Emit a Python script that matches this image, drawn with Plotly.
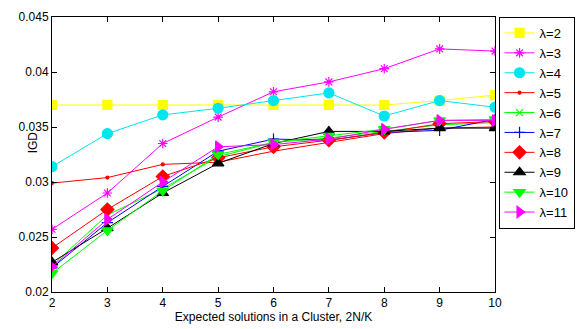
import plotly.graph_objects as go

x_vals = [2, 3, 4, 5, 6, 7, 8, 9, 10]

lam2 = [0.0370, 0.0370, 0.0370, 0.0370, 0.0370, 0.0370, 0.0370, 0.0374, 0.0379]
lam3 = [0.0257, 0.0290, 0.0335, 0.0359, 0.0382, 0.0391, 0.0403, 0.0421, 0.0419]
lam4 = [0.0314, 0.0344, 0.0361, 0.0367, 0.0374, 0.0381, 0.0360, 0.0374, 0.0368]
lam5 = [0.0299, 0.0304, 0.0316, 0.0318, 0.0328, 0.0336, 0.0344, 0.0349, 0.0350]
lam6 = [0.0224, 0.0270, 0.0294, 0.0323, 0.0336, 0.0340, 0.0346, 0.0352, 0.0354]
lam7 = [0.0222, 0.0263, 0.0296, 0.0328, 0.0339, 0.0338, 0.0345, 0.0347, 0.0357]
lam8 = [0.0240, 0.0275, 0.0305, 0.0322, 0.0332, 0.0338, 0.0345, 0.0353, 0.0355]
lam9 = [0.0227, 0.0258, 0.0290, 0.0317, 0.0335, 0.0346, 0.0346, 0.0349, 0.0349]
lam10 = [0.0217, 0.0256, 0.0292, 0.0325, 0.0336, 0.0342, 0.0348, 0.0356, 0.0357]
lam11 = [0.0223, 0.0266, 0.0300, 0.0332, 0.0334, 0.0339, 0.0348, 0.0356, 0.0356]

y_tick_vals = [0.02, 0.025, 0.03, 0.035, 0.04, 0.045]
y_tick_labels = ["0.02", "0.025", "0.03", "0.035", "0.04", "0.045"]

series_names = ["λ=2", "λ=3", "λ=4", "λ=5", "λ=6", "λ=7", "λ=8", "λ=9", "λ=10", "λ=11"]
series_data = [lam2, lam3, lam4, lam5, lam6, lam7, lam8, lam9, lam10, lam11]
colors = ["#ffff00", "#ff00ff", "#00e5ee", "#ff0000", "#00ff00", "#0000ff",
          "#ff0000", "#000000", "#00ff00", "#ff00ff"]
symbols = ["square", "asterisk", "circle", "circle", "x-thin", "cross-thin",
           "diamond", "triangle-up", "triangle-down", "triangle-right"]
sizes = [9, 8, 10, 3, 7, 8, 10, 10, 10, 10]

fig = go.Figure()
for name, ys, c, s, sz in zip(series_names, series_data, colors, symbols, sizes):
    fig.add_trace(go.Scatter(
        x=x_vals, y=ys, name=name, mode="lines+markers",
        line=dict(color=c, width=1),
        marker=dict(symbol=s, size=sz, color=c, line=dict(color=c, width=1.2)),
    ))

axis_common = dict(
    showline=True, linecolor="black", linewidth=1, mirror="ticks",
    ticks="inside", ticklen=5, tickcolor="black", showgrid=False, zeroline=False,
    automargin=False,
    tickfont=dict(family="Liberation Sans, Arial", size=12, color="black"),
)

fig.update_layout(
    width=587, height=329,
    margin=dict(l=52, r=88, t=17, b=37),
    paper_bgcolor="white", plot_bgcolor="white",
    font=dict(family="Liberation Sans, Arial", size=12, color="black"),
    xaxis=dict(range=[2, 10], dtick=1,
               title=dict(text="Expected solutions in a Cluster, 2N/K", standoff=2,
                          font=dict(size=12)),
               **axis_common),
    yaxis=dict(range=[0.02, 0.045], tickvals=y_tick_vals, ticktext=y_tick_labels,
               **axis_common),
    legend=dict(x=1.008, xanchor="left", y=1.0, yanchor="top",
                bordercolor="black", borderwidth=1, bgcolor="white",
                font=dict(size=13), tracegroupgap=0, itemwidth=30),
    showlegend=True,
    annotations=[dict(text="IGD", xref="paper", yref="paper",
                      x=-19 / 447, y=0.545, xanchor="center", yanchor="middle",
                      textangle=-90, showarrow=False,
                      font=dict(family="Liberation Sans, Arial", size=12, color="black"))],
)

fig.write_html("out.html")
